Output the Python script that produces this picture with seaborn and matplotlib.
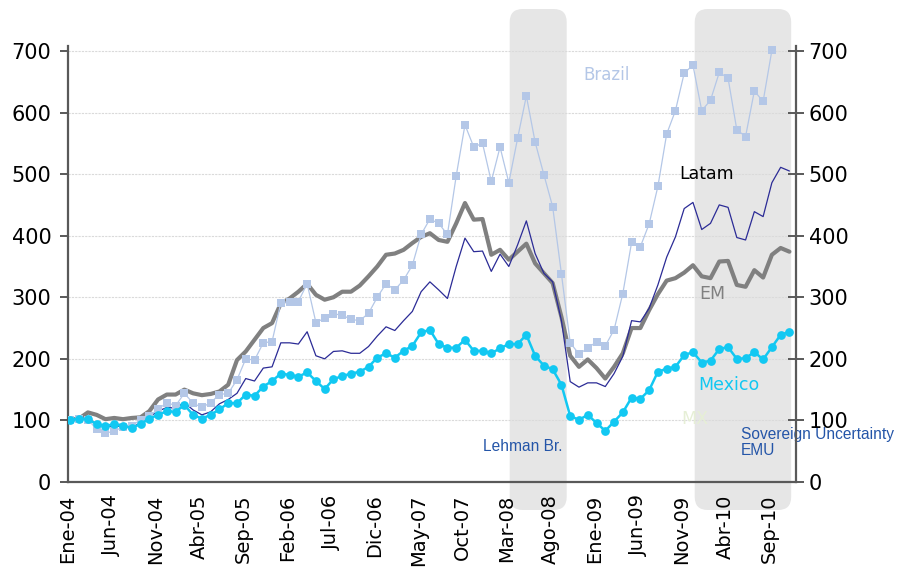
import numpy as np
import pandas as pd
import matplotlib
matplotlib.use("Agg")
import matplotlib.pyplot as plt
import seaborn as sns
from matplotlib.patches import FancyBboxPatch
from matplotlib.transforms import IdentityTransform

# ---------------- data (monthly index, Ene-04 .. Nov-10) ----------------
mexico = [101, 103, 102, 94, 91, 94, 91, 88, 94, 103, 109, 115, 114, 125, 109, 103, 109, 118, 128, 128,
          142, 140, 155, 164, 176, 174, 171, 178, 164, 151, 167, 172, 176, 179, 187, 202, 209, 202, 213, 221,
          243, 247, 224, 218, 218, 231, 213, 213, 209, 217, 224, 224, 239, 205, 189, 183, 158, 107, 101, 109,
          96, 83, 98, 113, 137, 135, 149, 179, 184, 187, 206, 211, 194, 197, 216, 219, 200, 201, 211, 199,
          219, 239, 244]
em = [101, 103, 113, 109, 102, 104, 102, 104, 105, 115, 134, 142, 142, 150, 144, 141, 143, 147, 158, 198,
      212, 231, 250, 258, 290, 298, 309, 322, 304, 296, 300, 309, 309, 319, 334, 350, 369, 371, 377, 388,
      398, 404, 393, 390, 420, 453, 426, 427, 369, 377, 361, 374, 387, 355, 339, 323, 268, 205, 187, 199,
      185, 168, 187, 209, 250, 250, 279, 305, 327, 331, 340, 352, 334, 331, 358, 359, 320, 317, 344, 332,
      369, 380, 374]
latam = [101, 103, 102, 95, 90, 91, 90, 90, 95, 106, 115, 121, 120, 129, 117, 109, 114, 127, 134, 144,
         168, 164, 185, 187, 226, 226, 224, 244, 205, 200, 212, 213, 209, 209, 220, 237, 252, 246, 262, 277,
         309, 325, 312, 298, 350, 396, 374, 375, 342, 370, 350, 385, 424, 371, 339, 325, 262, 163, 154, 161,
         161, 155, 176, 204, 262, 260, 282, 320, 365, 398, 444, 454, 410, 420, 450, 446, 397, 393, 439, 431,
         486, 511, 505]
brazil = [101, 103, 101, 86, 79, 83, 89, 91, 101, 107, 118, 129, 124, 144, 128, 121, 129, 142, 144, 166,
          200, 198, 226, 228, 291, 293, 293, 322, 259, 266, 273, 271, 264, 262, 274, 300, 322, 312, 328, 352,
          402, 427, 420, 402, 497, 580, 544, 550, 488, 544, 486, 558, 627, 552, 499, 447, 338, 226, 208, 217,
          228, 221, 247, 306, 389, 382, 419, 480, 565, 603, 664, 677, 603, 620, 665, 656, 572, 561, 635, 618,
          701, 745, 740]
tick_labels = ["Ene-04", "Jun-04", "Nov-04", "Abr-05", "Sep-05", "Feb-06", "Jul-06", "Dic-06", "May-07",
               "Oct-07", "Mar-08", "Ago-08", "Ene-09", "Jun-09", "Nov-09", "Abr-10", "Sep-10"]
y_ticks = [0, 100, 200, 300, 400, 500, 600, 700]
shade_spans = [(50.1, 56.6), (71.2, 82.2)]   # Lehman Br., Sovereign Uncertainty EMU

month = np.arange(len(mexico))
df = pd.DataFrame({"month": month, "Mexico": mexico, "EM": em, "Latam": latam, "Brazil": brazil})

# ---------------- style ----------------
sns.set_style("white")
plt.rcParams["font.family"] = ["DejaVu Sans"]
Y_FS = 15
X_FS = 14
plt.rcParams["xtick.labelsize"] = X_FS
plt.rcParams["ytick.labelsize"] = Y_FS

W, H = 899, 568
fig = plt.figure(figsize=(W / 100, H / 100), dpi=100)
ax = fig.add_axes([68 / W, 1 - 482 / H, (796 - 68) / W, (482 - 46) / H])
ax.patch.set_visible(False)

c_brazil = "#b4c7e7"
c_mexico = "#12c8f2"
c_latam = "#2b2b96"
c_em = "#808080"
axis_col = "#595959"

sns.lineplot(data=df, x="month", y="EM", ax=ax, color=c_em, linewidth=3.0, zorder=3)
sns.lineplot(data=df, x="month", y="Latam", ax=ax, color=c_latam, linewidth=0.9, zorder=4)
sns.lineplot(data=df, x="month", y="Brazil", ax=ax, color=c_brazil, linewidth=0.9, marker="s",
             markersize=6.3, markeredgewidth=0, zorder=5)
sns.lineplot(data=df, x="month", y="Mexico", ax=ax, color=c_mexico, linewidth=1.8, marker="o",
             markersize=6.3, markeredgewidth=0, zorder=6)

ax.set_xlim(-0.26, 82.75)
ax.set_ylim(0, 708)
ax.set_xlabel("")
ax.set_ylabel("")

tick_shift = -0.27
ax.set_xticks(np.arange(len(tick_labels)) * 5 + tick_shift)
ax.set_xticklabels(tick_labels, rotation=90, fontsize=X_FS)
ax.set_yticks(y_ticks)
ax.set_yticklabels([str(v) for v in y_ticks], fontsize=Y_FS)
ax.grid(axis="y", color="#dadada", linewidth=0.8, linestyle=(0, (2, 1)))
ax.grid(axis="x", visible=False)

for s in ["top", "right"]:
    ax.spines[s].set_visible(False)
for s in ["left", "bottom"]:
    ax.spines[s].set_color(axis_col)
    ax.spines[s].set_linewidth(1.6)

ax.tick_params(axis="y", direction="out", length=6, width=1.4, color=axis_col, pad=6, labelcolor="black")
ax.tick_params(axis="x", direction="out", length=6, width=1.4, color=axis_col, pad=3, labelcolor="black")

ax2 = ax.twinx()
ax2.set_ylim(ax.get_ylim())
ax2.set_yticks(y_ticks)
ax2.set_yticklabels([str(v) for v in y_ticks], fontsize=Y_FS)
ax2.patch.set_visible(False)
for s in ["top", "left", "bottom"]:
    ax2.spines[s].set_visible(False)
ax2.spines["right"].set_color(axis_col)
ax2.spines["right"].set_linewidth(1.6)
ax2.tick_params(axis="y", direction="inout", length=12, width=1.4, color=axis_col, pad=3, labelcolor="black")
ax2.set_ylabel("")

# ---------------- shaded event periods (rounded, spanning into labels) ----------------
top_px, bot_px = H - 9, H - 510
for x0, x1 in shade_spans:
    px0 = ax.transData.transform((x0, 0))[0]
    px1 = ax.transData.transform((x1, 0))[0]
    patch = FancyBboxPatch((px0, bot_px), px1 - px0, top_px - bot_px,
                           boxstyle="round,pad=0,rounding_size=13",
                           transform=IdentityTransform(), facecolor="#e6e6e6",
                           edgecolor="none", zorder=-1)
    fig.add_artist(patch)

# ---------------- annotations ----------------
ax.text(61.2, 661, "Brazil", color=c_brazil, fontsize=12, ha="center", va="center")
ax.text(72.6, 500, "Latam", color="black", fontsize=12.5, ha="center", va="center")
ax.text(73.2, 305, "EM", color=c_em, fontsize=12.5, ha="center", va="center")
ax.text(75.1, 157, "Mexico", color=c_mexico, fontsize=12.5, ha="center", va="center")
ax.text(71.2, 102, "MX", color="#e6efd6", fontsize=12.5, ha="center", va="center")
ax.text(51.6, 58, "Lehman Br.", color="#2455a8", fontsize=11.2, ha="center", va="center",
        family=["Liberation Sans", "DejaVu Sans"])
ax.text(76.5, 64, "Sovereign Uncertainty\nEMU", color="#2455a8", fontsize=11.2, ha="left",
        va="center", linespacing=1.05, family=["Liberation Sans", "DejaVu Sans"])

fig.savefig("out.png", dpi=100)
